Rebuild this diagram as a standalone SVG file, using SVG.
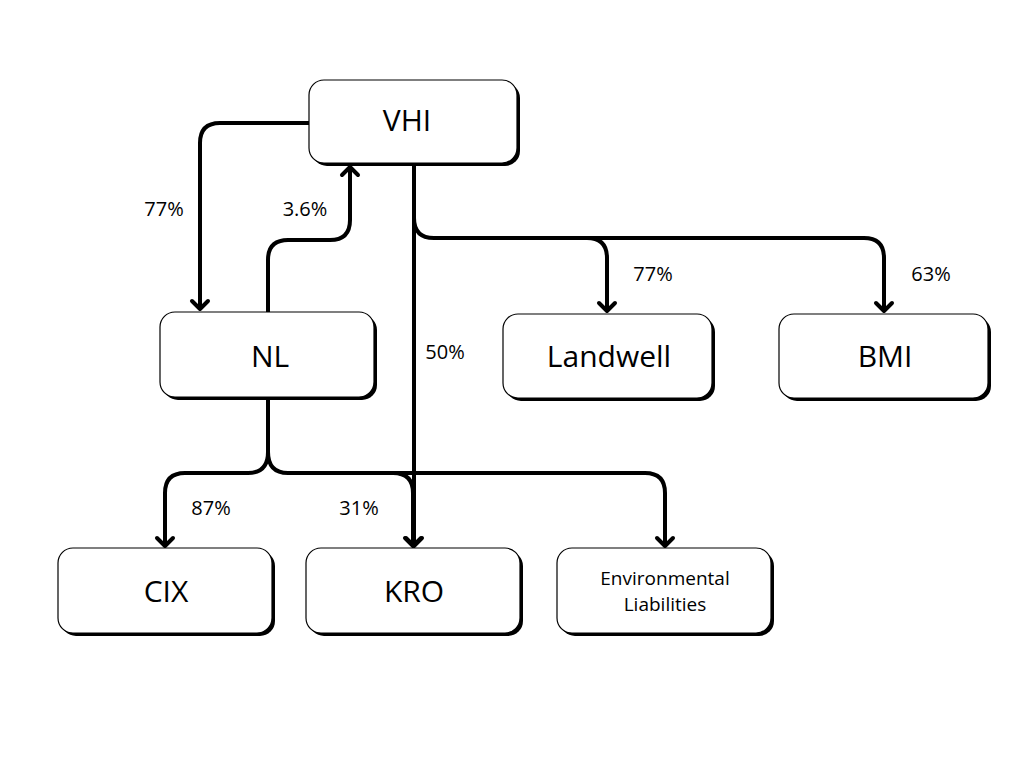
<svg xmlns="http://www.w3.org/2000/svg" width="1024" height="768" viewBox="0 0 1024 768">
<style>
.bg{fill:#fff}
.sh{fill:#000}
.box{fill:#fff;stroke:#000;stroke-width:1.2}
.t{font-family:"Open Sans","Liberation Sans",sans-serif;font-size:30px;fill:#000;text-anchor:middle}
.ts{font-family:"Open Sans","Liberation Sans",sans-serif;font-size:19px;fill:#000;text-anchor:middle}
.lbl{font-family:"Open Sans","Liberation Sans",sans-serif;font-size:20px;fill:#000;text-anchor:middle}
.c{fill:none;stroke:#000;stroke-width:4;stroke-linejoin:round}
</style>
<defs>
<marker id="ah" markerUnits="userSpaceOnUse" markerWidth="24" markerHeight="24" viewBox="0 0 24 24" refX="18" refY="12" orient="auto">
<path d="M10,4 L18,12 L10,20" fill="none" stroke="#000" stroke-width="4" stroke-linecap="round" stroke-linejoin="round"/>
</marker>
</defs>
<rect class="bg" x="0" y="0" width="1024" height="768"/>
<g id="connectors">
<path class="c" d="M309,123 H220 Q200,123 200,143 V309" marker-end="url(#ah)"/>
<path class="c" d="M268,312 V260 Q268,240 288,240 H330 Q350,240 350,220 V167" marker-end="url(#ah)"/>
<path class="c" d="M414,165 V546" marker-end="url(#ah)"/>
<path class="c" d="M414,200 V218 Q414,238 434,238 H587 Q607,238 607,258 V311" marker-end="url(#ah)"/>
<path class="c" d="M587,238 H864 Q884,238 884,258 V311" marker-end="url(#ah)"/>
<path class="c" d="M268,398 V452 Q268,473 248,473 H185 Q165,473 165,493 V546" marker-end="url(#ah)"/>
<path class="c" d="M268,452 Q268,473 288,473 H393 Q413,473 413,493 V546" marker-end="url(#ah)"/>
<path class="c" d="M393,473 H645 Q665,473 665,493 V546" marker-end="url(#ah)"/>
</g>
<g id="labels">
<text class="lbl" x="164" y="216">77%</text>
<text class="lbl" x="305" y="216">3.6%</text>
<text class="lbl" x="445" y="359">50%</text>
<text class="lbl" x="653" y="281">77%</text>
<text class="lbl" x="931" y="281">63%</text>
<text class="lbl" x="211" y="515">87%</text>
<text class="lbl" x="359" y="515">31%</text>
</g>
<g id="VHI">
<rect class="sh" x="312" y="83" width="208" height="83" rx="15"/>
<rect class="box" x="309" y="80" width="208" height="83" rx="15"/>
<text class="t" x="407" y="131">VHI</text>
</g>
<g id="NL">
<rect class="sh" x="163" y="315" width="214" height="85" rx="15"/>
<rect class="box" x="160" y="312" width="214" height="85" rx="15"/>
<text class="t" x="270" y="367">NL</text>
</g>
<g id="Landwell">
<rect class="sh" x="506" y="317" width="209" height="84" rx="15"/>
<rect class="box" x="503" y="314" width="209" height="84" rx="15"/>
<text class="t" x="609" y="367">Landwell</text>
</g>
<g id="BMI">
<rect class="sh" x="782" y="317" width="209" height="84" rx="15"/>
<rect class="box" x="779" y="314" width="209" height="84" rx="15"/>
<text class="t" x="885" y="367">BMI</text>
</g>
<g id="CIX">
<rect class="sh" x="61" y="551" width="214" height="85" rx="15"/>
<rect class="box" x="58" y="548" width="214" height="85" rx="15"/>
<text class="t" x="166" y="602">CIX</text>
</g>
<g id="KRO">
<rect class="sh" x="309" y="551" width="214" height="85" rx="15"/>
<rect class="box" x="306" y="548" width="214" height="85" rx="15"/>
<text class="t" x="414" y="602">KRO</text>
</g>
<g id="EnvironmentalLiabilities">
<rect class="sh" x="560" y="551" width="214" height="85" rx="15"/>
<rect class="box" x="557" y="548" width="214" height="85" rx="15"/>
<text class="ts" x="665" y="585">Environmental</text>
<text class="ts" x="665" y="611">Liabilities</text>
</g>
</svg>
